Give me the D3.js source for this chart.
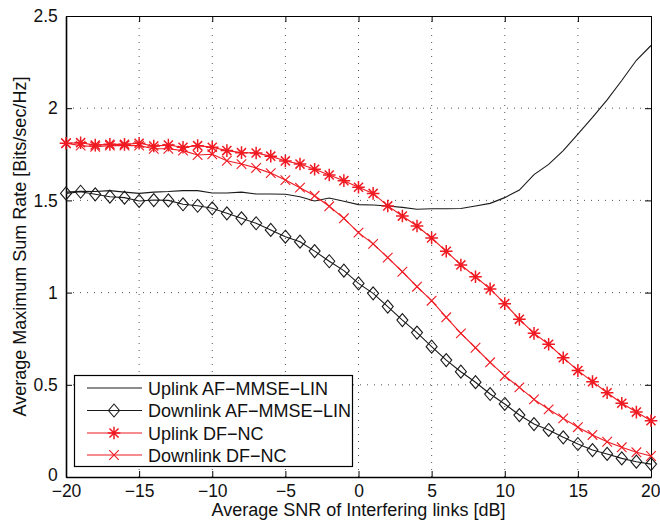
<!DOCTYPE html>
<html>
<head>
<meta charset="utf-8">
<script src="https://cdn.jsdelivr.net/npm/d3@7/dist/d3.min.js"></script>
<style>
  html, body { margin: 0; padding: 0; background: #fff; }
  svg { display: block; }
  text { font-family: "Liberation Sans", Arial, Helvetica, sans-serif; fill: #111; }
</style>
</head>
<body>
<svg id="chart" width="660" height="523"></svg>
<script>
// ---- data ----
const snrDb = [-20,-19,-18,-17,-16,-15,-14,-13,-12,-11,-10,-9,-8,-7,-6,-5,-4,-3,-2,-1,0,1,2,3,4,5,6,7,8,9,10,11,12,13,14,15,16,17,18,19,20];
const uplinkAF = [1.545,1.550,1.548,1.553,1.545,1.538,1.545,1.548,1.553,1.553,1.540,1.540,1.545,1.535,1.535,1.533,1.520,1.497,1.513,1.495,1.477,1.475,1.470,1.462,1.452,1.455,1.455,1.456,1.470,1.484,1.515,1.556,1.640,1.695,1.770,1.860,1.950,2.045,2.150,2.260,2.340];
const downlinkAF = [1.538,1.547,1.533,1.520,1.515,1.497,1.502,1.500,1.479,1.471,1.457,1.430,1.403,1.376,1.340,1.303,1.276,1.225,1.170,1.119,1.050,0.996,0.924,0.851,0.783,0.707,0.634,0.571,0.514,0.450,0.396,0.336,0.287,0.255,0.215,0.179,0.146,0.125,0.101,0.083,0.070];
const uplinkDF = [1.810,1.813,1.800,1.804,1.804,1.810,1.795,1.800,1.788,1.797,1.788,1.770,1.759,1.757,1.740,1.714,1.697,1.669,1.638,1.607,1.571,1.538,1.470,1.415,1.361,1.296,1.224,1.150,1.086,1.020,0.940,0.855,0.779,0.720,0.647,0.577,0.517,0.457,0.400,0.352,0.305];
const downlinkDF = [1.810,1.797,1.791,1.797,1.797,1.797,1.780,1.780,1.770,1.746,1.750,1.715,1.697,1.676,1.648,1.610,1.569,1.525,1.468,1.403,1.325,1.264,1.190,1.113,1.032,0.956,0.866,0.779,0.701,0.622,0.548,0.486,0.421,0.367,0.318,0.270,0.228,0.191,0.161,0.134,0.114];
const seriesNames = ["Uplink AF\u2212MMSE\u2212LIN","Downlink AF\u2212MMSE\u2212LIN","Uplink DF\u2212NC","Downlink DF\u2212NC"];
const xTicks = [-20,-15,-10,-5,0,5,10,15,20];
const yTicks = [0,0.5,1,1.5,2,2.5];
const xTitle = "Average SNR of Interfering links [dB]";
const yTitle = "Average Maximum Sum Rate [Bits/sec/Hz]";

// ---- layout ----
const L = 66, R = 651, T = 16, B = 477;
const RED = "#f01a22", BLK = "#1a1a1a";
const FONT = 18, TICKFONT = 17.5;

const svg = d3.select("#chart");
const x = d3.scaleLinear().domain([-20, 20]).range([L, R]);
const y = d3.scaleLinear().domain([0, 2.5]).range([B, T]);

// grid
const grid = svg.append("g");
grid.selectAll("line.vx").data(xTicks.slice(1, -1)).enter().append("line")
  .attr("x1", d => x(d)).attr("x2", d => x(d)).attr("y1", B).attr("y2", T)
  .attr("stroke", "#555").attr("stroke-width", 1).attr("stroke-dasharray", "1,6");
grid.selectAll("line.hy").data(yTicks.slice(1, -1)).enter().append("line")
  .attr("y1", d => y(d)).attr("y2", d => y(d)).attr("x1", L).attr("x2", R)
  .attr("stroke", "#555").attr("stroke-width", 1).attr("stroke-dasharray", "1,6");

// axes with inward ticks
const fmt = d => (d < 0 ? "\u2212" + Math.abs(d) : String(d));
const xAxisB = d3.axisBottom(x).tickValues(xTicks).tickSizeInner(-6).tickSizeOuter(0).tickPadding(9).tickFormat(fmt);
const xAxisT = d3.axisTop(x).tickValues(xTicks).tickSizeInner(-6).tickSizeOuter(0).tickFormat("");
const yAxisL = d3.axisLeft(y).tickValues(yTicks).tickSizeInner(-6).tickSizeOuter(0).tickPadding(10).tickFormat(d => d);
const yAxisR = d3.axisRight(y).tickValues(yTicks).tickSizeInner(-6).tickSizeOuter(0).tickFormat("");

function styleAxis(g, w) {
  g.select(".domain").attr("stroke", "#000").attr("stroke-width", w);
  g.selectAll(".tick line").attr("stroke", "#000").attr("stroke-width", 1);
  g.selectAll(".tick text").attr("font-size", TICKFONT).attr("fill", "#111")
    .attr("font-family", "Liberation Sans, Arial, Helvetica, sans-serif");
}
styleAxis(svg.append("g").attr("transform", `translate(0,${T})`).call(xAxisT), 1);
styleAxis(svg.append("g").attr("transform", `translate(${R},0)`).call(yAxisR), 1);
const gxb = svg.append("g").attr("transform", `translate(0,${B})`).call(xAxisB);
styleAxis(gxb, 1.6);
const gyl = svg.append("g").attr("transform", `translate(${L},0)`).call(yAxisL);
styleAxis(gyl, 1.6);
gyl.selectAll(".tick text").attr("dx", "0.1em");
// lift the "0" label slightly so it does not touch the "-20" label below it
gyl.selectAll(".tick text").filter(d => d === 0).attr("y", -2);
gxb.selectAll(".tick text").attr("dy", "0.6em");
// keep the last x tick label inside the picture
gxb.selectAll(".tick text").filter(d => d === 20).attr("text-anchor", "end").attr("x", 9);

// titles
svg.append("text").attr("x", (L + R) / 2).attr("y", 516).attr("text-anchor", "middle")
  .attr("font-size", FONT).text(xTitle);
svg.append("text").attr("transform", `translate(26,${(T + B) / 2}) rotate(-90)`)
  .attr("text-anchor", "middle").attr("font-size", FONT).text(yTitle);

// marker drawers
function drawMarker(g, type, cx, cy, color) {
  if (type === "diamond") {
    const w = 5.5, h = 6.5;
    g.append("path").attr("d", `M${cx},${cy - h}L${cx + w},${cy}L${cx},${cy + h}L${cx - w},${cy}Z`)
      .attr("fill", "none").attr("stroke", color).attr("stroke-width", 1.1);
  } else if (type === "star") {
    const r = 6.3, d = r * 0.72;
    g.append("path").attr("d",
      `M${cx - r},${cy}L${cx + r},${cy}M${cx},${cy - r}L${cx},${cy + r}` +
      `M${cx - d},${cy - d}L${cx + d},${cy + d}M${cx - d},${cy + d}L${cx + d},${cy - d}`)
      .attr("stroke", color).attr("stroke-width", 1.5).attr("fill", "none");
  } else if (type === "x") {
    const d = 4.8;
    g.append("path").attr("d",
      `M${cx - d},${cy - d}L${cx + d},${cy + d}M${cx - d},${cy + d}L${cx + d},${cy - d}`)
      .attr("stroke", color).attr("stroke-width", 1.1).attr("fill", "none");
  }
}

const series = [
  { vals: uplinkAF, color: BLK, marker: null },
  { vals: downlinkAF, color: BLK, marker: "diamond" },
  { vals: uplinkDF, color: RED, marker: "star" },
  { vals: downlinkDF, color: RED, marker: "x" }
];

const line = d3.line().x(d => x(d[0])).y(d => y(d[1]));
const plot = svg.append("g");
series.forEach(s => {
  const pts = snrDb.map((v, i) => [v, s.vals[i]]);
  plot.append("path").datum(pts).attr("d", line)
    .attr("fill", "none").attr("stroke", s.color).attr("stroke-width", 1.1);
  if (s.marker) {
    const mg = plot.append("g");
    pts.forEach(p => drawMarker(mg, s.marker, x(p[0]), y(p[1]), s.color));
  }
});

// legend
const lg = svg.append("g");
lg.append("rect").attr("x", 74.5).attr("y", 375.5).attr("width", 278).attr("height", 91)
  .attr("fill", "#fff").attr("stroke", "#000").attr("stroke-width", 1.2);
const rowsY = [388, 410.5, 433, 455];
series.forEach((s, i) => {
  const cy = rowsY[i];
  lg.append("line").attr("x1", 87).attr("x2", 142).attr("y1", cy).attr("y2", cy)
    .attr("stroke", s.color).attr("stroke-width", 1.1);
  if (s.marker) drawMarker(lg, s.marker, 114, cy, s.color);
  lg.append("text").attr("x", 148).attr("y", cy + 6.5).attr("font-size", FONT).text(seriesNames[i]);
});
</script>
</body>
</html>
